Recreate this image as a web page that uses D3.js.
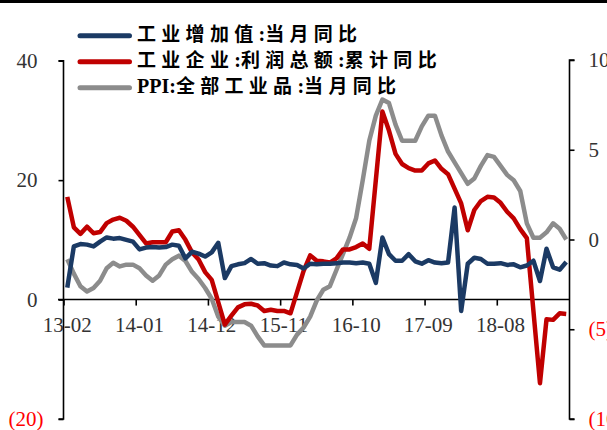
<!DOCTYPE html>
<html>
<head>
<meta charset="utf-8">
<script src="https://cdn.jsdelivr.net/npm/d3@7"></script>
<style>
  html, body { margin: 0; padding: 0; background: #fff; }
  svg { display: block; }
</style>
</head>
<body>
<div id="chart"></div>
<script>
// Monthly categories, YY-MM
const months = [
  "13-02","13-03","13-04","13-05","13-06","13-07","13-08","13-09","13-10","13-11","13-12",
  "14-01","14-02","14-03","14-04","14-05","14-06","14-07","14-08","14-09","14-10","14-11","14-12",
  "15-01","15-02","15-03","15-04","15-05","15-06","15-07","15-08","15-09","15-10","15-11","15-12",
  "16-01","16-02","16-03","16-04","16-05","16-06","16-07","16-08","16-09","16-10","16-11","16-12",
  "17-01","17-02","17-03","17-04","17-05","17-06","17-07","17-08","17-09","17-10","17-11","17-12",
  "18-01","18-02","18-03","18-04","18-05","18-06","18-07","18-08","18-09","18-10","18-11","18-12",
  "19-01","19-02","19-03","19-04","19-05","19-06"
];
const tickLabels = ["13-02","14-01","14-12","15-11","16-10","17-09","18-08"];

// 工业增加值:当月同比 (%), left axis
const valueAdded = [
  2.0, 8.9, 9.3, 9.2, 8.9, 9.7, 10.4, 10.2, 10.3, 10.0, 9.7,
  8.4, 8.7, 8.8, 8.7, 8.8, 9.2, 9.0, 6.9, 8.0, 7.7, 7.2, 7.9,
  9.5, 3.6, 5.6, 5.9, 6.1, 6.8, 6.0, 6.1, 5.7, 5.6, 6.2, 5.9,
  5.8, 5.2, 6.0, 5.9, 6.0, 6.0, 6.1, 6.2, 6.2, 6.1, 6.2, 6.0,
  2.8, 10.4, 7.6, 6.5, 6.5, 7.6, 6.4, 6.0, 6.6, 6.2, 6.1, 6.2,
  15.4, -1.9, 6.0, 7.0, 6.8, 6.0, 6.0, 6.1, 5.8, 5.9, 5.4, 5.7,
  6.5, 3.1, 8.5, 5.4, 5.0, 6.3
];

// 工业企业:利润总额:累计同比 (%), left axis; January has no cumulative figure
const profitYTD = [
  17.2, 12.1, 11.0, 12.2, 11.1, 11.3, 12.8, 13.4, 13.7, 13.2, 12.2,
  null, 9.4, 9.6, 9.6, 9.6, 11.4, 11.6, 10.0, 7.9, 6.7, 4.6, 3.3,
  null, -4.2, -2.7, -1.3, -0.8, -0.7, -1.0, -1.9, -1.7, -1.9, -1.9, -2.3,
  null, 4.8, 7.4, 6.5, 6.4, 6.2, 6.9, 8.4, 8.4, 8.8, 9.4, 8.5,
  null, 31.5, 28.3, 24.4, 22.7, 22.0, 21.6, 21.6, 22.8, 23.3, 21.9, 21.0,
  null, 16.1, 11.6, 15.0, 16.5, 17.2, 17.1, 16.2, 14.7, 13.6, 11.8, 10.3,
  null, -14.0, -3.3, -3.4, -2.3, -2.4
];

// PPI:全部工业品:当月同比 (%), right axis
const ppi = [
  -1.1, -1.9, -2.6, -2.9, -2.7, -2.3, -1.6, -1.3, -1.5, -1.4, -1.4,
  -1.6, -2.0, -2.3, -2.0, -1.4, -1.1, -0.9, -1.2, -1.8, -2.2, -2.7, -3.3,
  -4.3, -4.8, -4.6, -4.6, -4.6, -4.8, -5.4, -5.9, -5.9, -5.9, -5.9, -5.9,
  -5.3, -4.9, -4.3, -3.4, -2.8, -2.6, -1.7, -0.8, 0.1, 1.2, 3.3, 5.5,
  6.9, 7.8, 7.6, 6.4, 5.5, 5.5, 5.5, 6.3, 6.9, 6.9, 5.8, 4.9,
  4.3, 3.7, 3.1, 3.4, 4.1, 4.7, 4.6, 4.1, 3.6, 3.3, 2.7, 0.9,
  0.1, 0.1, 0.4, 0.9, 0.6, 0.0
];

const leftTicks = [-20, 0, 20, 40];
const rightTicks = [-10, -5, 0, 5, 10];

const seriesNames = ["工业增加值:当月同比", "工业企业:利润总额:累计同比", "PPI:全部工业品:当月同比"];
const seriesColors = ["#1B3A64", "#C00000", "#8C8C8C"];

const W = 607, H = 430;
const svg = d3.select("#chart").append("svg").attr("width", W).attr("height", H);

// heavy rule along the top edge
svg.append("rect").attr("x", 0).attr("y", 0).attr("width", W).attr("height", 3).attr("fill", "#000");

const x = d3.scaleBand().domain(months).range([64, 569.5]).paddingInner(0).paddingOuter(0);
const yL = d3.scaleLinear().domain([-20, 40]).range([419, 60.7]);
const yR = d3.scaleLinear().domain([-10, 10]).range([419, 60]);
const cx = m => x(m) + x.bandwidth() / 2;

const axisFont = "'Liberation Serif', 'Times New Roman', serif";
const fmt = d => d < 0 ? `(${-d})` : `${d}`;

// left axis
const gL = svg.append("g").attr("transform", `translate(${x.range()[0] - 0.5},0)`)
  .call(d3.axisLeft(yL).tickValues(leftTicks).tickSize(5).tickPadding(15).tickFormat(fmt));
gL.select(".domain").attr("d", `M-5,${yL(40)}H0V${yL(-20)}H-5`);
gL.selectAll("text")
  .attr("font-family", axisFont).attr("font-size", 21)
  .attr("fill", d => d < 0 ? "#FF0000" : "#333")
  .attr("dx", d => d < 0 ? 0 : -6);

// right axis
const gR = svg.append("g").attr("transform", `translate(${x.range()[1]},0)`)
  .call(d3.axisRight(yR).tickValues(rightTicks).tickSize(5).tickPadding(14).tickFormat(fmt));
gR.select(".domain").attr("d", `M5,${yR(10)}H0V${yR(-10)}H5`);
gR.selectAll("text")
  .attr("font-family", axisFont).attr("font-size", 21)
  .attr("fill", d => d < 0 ? "#FF0000" : "#333");

[gL, gR].forEach(g => {
  g.selectAll("path, line").attr("stroke", "#000").attr("stroke-width", 1.6);
});

// category axis at zero
const y0 = yL(0);
const gX = svg.append("g").attr("transform", `translate(0,${y0})`)
  .call(d3.axisBottom(x).tickValues(tickLabels).tickSize(0).tickPadding(18));
gX.select(".domain").remove();
gX.selectAll("text").attr("font-family", axisFont).attr("font-size", 21).attr("fill", "#333");
svg.append("line").attr("x1", x.range()[0] - 6).attr("x2", x.range()[1]).attr("y1", y0).attr("y2", y0)
  .attr("stroke", "#000").attr("stroke-width", 1.6);
svg.append("g").selectAll("line")
  .data(tickLabels)
  .join("line")
  .attr("x1", d => x(d)).attr("x2", d => x(d))
  .attr("y1", y0).attr("y2", y0 + 6)
  .attr("stroke", "#000").attr("stroke-width", 1.6);

// series lines
const lineL = d3.line().x(d => cx(d.m)).y(d => yL(d.v));
const lineR = d3.line().x(d => cx(d.m)).y(d => yR(d.v));
const rows = arr => months.map((m, i) => ({ m, v: arr[i] })).filter(d => d.v != null);

const plots = [
  { data: rows(ppi), gen: lineR, color: seriesColors[2] },
  { data: rows(profitYTD), gen: lineL, color: seriesColors[1] },
  { data: rows(valueAdded), gen: lineL, color: seriesColors[0] }
];
plots.forEach(p => {
  svg.append("path").datum(p.data)
    .attr("d", p.gen)
    .attr("fill", "none")
    .attr("stroke", p.color)
    .attr("stroke-width", 4.5)
    .attr("stroke-linejoin", "round");
});

// legend: CJK runs get extra tracking, Latin runs stay tight
const legend = svg.append("g");
const legendY = [35.7, 61.7, 87.7];
const runs = s => s.match(/[\u4e00-\u9fff]+|[^\u4e00-\u9fff]+/g);
seriesNames.forEach((name, i) => {
  legend.append("line")
    .attr("x1", 80).attr("x2", 129.5).attr("y1", legendY[i]).attr("y2", legendY[i])
    .attr("stroke", seriesColors[i]).attr("stroke-width", 5).attr("stroke-linecap", "round");
  const t = legend.append("text")
    .attr("x", 137).attr("y", legendY[i]).attr("dy", "0.36em")
    .attr("font-weight", "bold")
    .attr("fill", "#000");
  runs(name).forEach(r => {
    const cjk = /[\u4e00-\u9fff]/.test(r);
    t.append("tspan")
      .attr("font-family", cjk ? "'Noto Sans CJK SC', sans-serif" : axisFont)
      .attr("font-size", cjk ? 19 : 20)
      .attr("letter-spacing", cjk ? 5.3 : 0)
      .text(r);
  });
});
</script>
</body>
</html>
